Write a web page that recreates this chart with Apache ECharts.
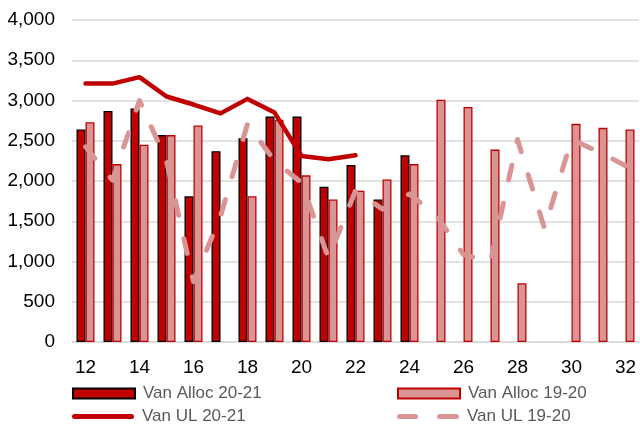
<!DOCTYPE html>
<html>
<head>
<meta charset="utf-8">
<script src="https://cdn.jsdelivr.net/npm/echarts@6/dist/echarts.min.js"></script>
<style>html,body{margin:0;padding:0;background:#fff}#c{width:640px;height:425px}</style>
</head>
<body>
<div id="c"></div>
<script>
var categories = ['12','13','14','15','16','17','18','19','20','21','22','23','24','25','26','27','28','29','30','31','32'];
var vanAlloc2021 = [2640, 2870, 2900, 2570, 1810, 2370, 2530, 2800, 2800, 1930, 2200, 1770, 2320, null, null, null, null, null, null, null, null];
var vanAlloc1920 = [2730, 2210, 2450, 2570, 2690, null, 1810, 2760, 2070, 1770, 1880, 2020, 2210, 3010, 2920, 2390, 730, null, 2710, 2660, 2640];
var vanUL2021 = [3210, 3210, 3290, 3050, 2950, 2840, 3020, 2850, 2310, 2270, 2320, null, null, null, null, null, null, null, null, null, null];
var vanUL1920 = [2425, 2010, 3000, 2250, 750, 1560, 2710, 2250, 1980, 1040, 1880, 1650, 1840, 1570, 1085, 1000, 2515, 1410, 2515, 2365, 2190];
var yTicks = {min: 0, max: 4000, interval: 500};

var font = 'Liberation Sans, Arial, sans-serif';
var chart = echarts.init(document.getElementById('c'), null, {renderer: 'canvas'});
var legendText = {color: '#595959', fontSize: 17, fontFamily: font, padding: [0, 0, 0, 3]};
var solidIcon = 'path://M2.5,0H59.5A2.5,2.5,0,0,1,59.5,5H2.5A2.5,2.5,0,0,1,2.5,0Z';
var dashIcon = 'path://M2.5,0H18.5A2.5,2.5,0,0,1,18.5,5H2.5A2.5,2.5,0,0,1,2.5,0Z' +
               'M42.5,0H59.5A2.5,2.5,0,0,1,59.5,5H42.5A2.5,2.5,0,0,1,42.5,0Z';
function lg(name, left, top, icon, h) {
  return {data: [{name: name, icon: icon}], left: left, top: top, padding: 0,
    itemWidth: 62, itemHeight: h, textStyle: legendText, selectedMode: false};
}
chart.setOption({
  animation: false,
  grid: {left: 72, right: 1, top: 20, bottom: 83},
  legend: [
    lg('Van Alloc 20-21', 72, 385, 'rect', 10),
    lg('Van Alloc 19-20', 397, 385, 'rect', 10),
    lg('Van UL 20-21', 72, 408, solidIcon, 5),
    lg('Van UL 19-20', 397, 408, dashIcon, 5)
  ],
  xAxis: {
    type: 'category', data: categories,
    axisLine: {show: true, lineStyle: {color: '#d9d9d9', width: 1.5}},
    axisTick: {show: false},
    axisLabel: {interval: 1, color: '#000', fontSize: 19, fontFamily: font, margin: 16}
  },
  yAxis: {
    type: 'value', min: yTicks.min, max: yTicks.max, interval: yTicks.interval,
    axisLine: {show: false}, axisTick: {show: false},
    splitLine: {lineStyle: {color: '#d9d9d9', width: 1.5}},
    axisLabel: {color: '#000', fontSize: 19, fontFamily: font, margin: 17,
      formatter: function (v) { return v.toLocaleString('en-US'); }}
  },
  series: [
    {name: 'Van Alloc 20-21', type: 'bar', data: vanAlloc2021, barWidth: 9, barGap: '0%',
      itemStyle: {color: '#c00000', borderColor: '#000', borderWidth: 1.3}},
    {name: 'Van Alloc 19-20', type: 'bar', data: vanAlloc1920, barWidth: 9, barGap: '0%',
      itemStyle: {color: '#d99594', borderColor: '#c00000', borderWidth: 1.3}},
    {name: 'Van UL 20-21', type: 'line', data: vanUL2021, symbol: 'none', z: 5,
      lineStyle: {color: '#c00000', width: 4.5, cap: 'round', join: 'round'},
      itemStyle: {color: '#c00000'}},
    {name: 'Van UL 19-20', type: 'line', data: vanUL1920, symbol: 'none', z: 4,
      lineStyle: {color: '#d99594', width: 5, type: [15, 24], cap: 'round', join: 'round'},
      itemStyle: {color: '#d99594'}}
  ]
});
</script>
</body>
</html>
